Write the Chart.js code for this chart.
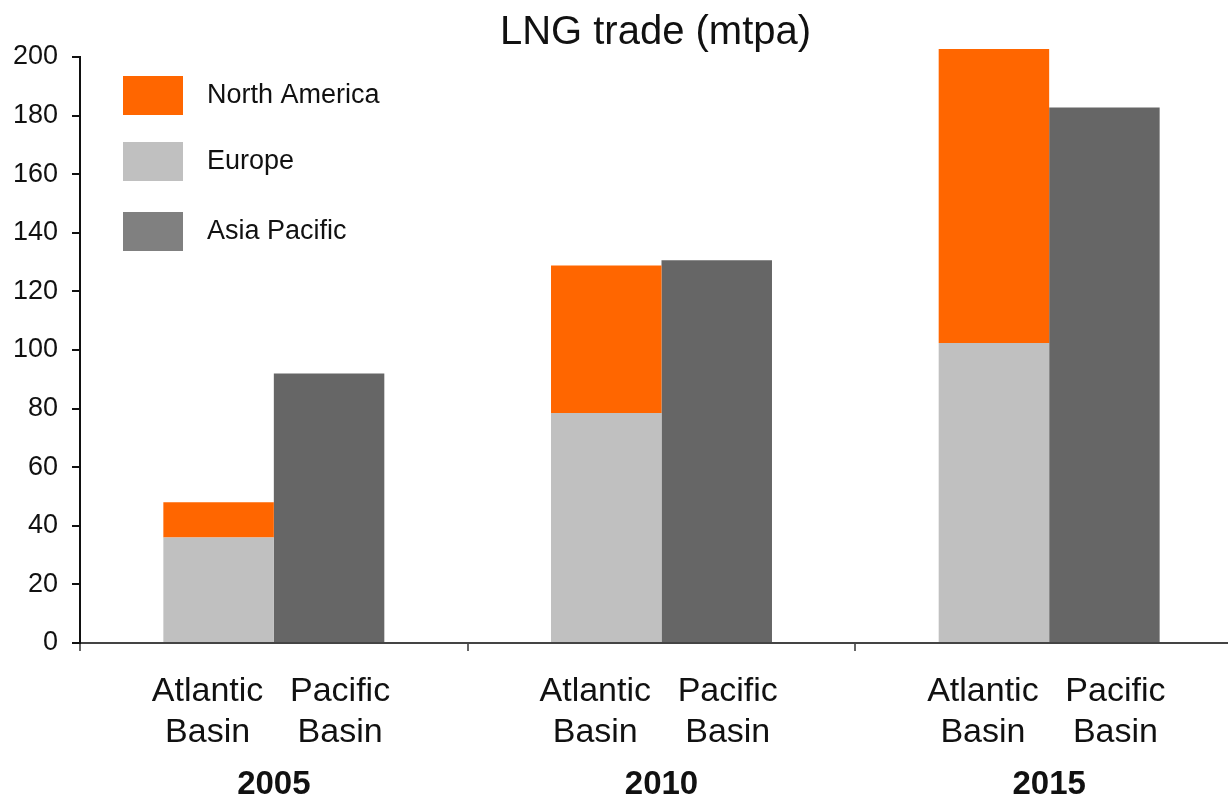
<!DOCTYPE html>
<html>
<head>
<meta charset="utf-8">
<script src="https://cdn.jsdelivr.net/npm/chart.js@4/dist/chart.umd.min.js"></script>
<style>
html,body{margin:0;padding:0;background:#fff;overflow:hidden;}
#wrap{width:1243px;height:801px;position:relative;}
</style>
</head>
<body>
<div id="wrap"><canvas id="c"></canvas></div>
<script>
const categories = ['2005', '2010', '2015'];
const basinLabels = [['Atlantic', 'Basin'], ['Pacific', 'Basin']];
const europe = [36, 78.5, 102.4];
const northAmerica = [12, 50.3, 100.3];
const asiaPacific = [92, 130.6, 182.8];
const yMin = 0, yMax = 200, yStep = 20;
const titleText = 'LNG trade (mtpa)';
const legendOrder = ['North America', 'Europe', 'Asia Pacific'];
const legendColors = {'North America': '#FF6600', 'Europe': '#C0C0C0', 'Asia Pacific': '#808080'};

const FONT = '"Liberation Sans", Arial, Helvetica, sans-serif';

const overlay = {
  id: 'overlay',
  afterDraw(chart) {
    const ctx = chart.ctx;
    const ca = chart.chartArea;
    ctx.save();
    // title
    ctx.fillStyle = '#111';
    ctx.font = '40px ' + FONT;
    ctx.textAlign = 'center';
    ctx.textBaseline = 'alphabetic';
    ctx.fillText(titleText, (ca.left + ca.right) / 2 - 6, 44);
    // legend
    ctx.textAlign = 'left';
    ctx.textBaseline = 'middle';
    ctx.font = '27px ' + FONT;
    const tops = [76, 142, 212];
    legendOrder.forEach((name, k) => {
      ctx.fillStyle = legendColors[name];
      ctx.fillRect(123, tops[k], 60, 39);
      ctx.fillStyle = '#111';
      ctx.fillText(name, 207, tops[k] + 20);
    });
    // basin sub-labels
    ctx.font = '34px ' + FONT;
    ctx.textAlign = 'center';
    ctx.textBaseline = 'alphabetic';
    const metaA = chart.getDatasetMeta(0);
    const metaP = chart.getDatasetMeta(2);
    categories.forEach((c, i) => {
      const xa = metaA.data[i].x - 11;
      const xp = metaP.data[i].x + 11;
      ctx.fillStyle = '#111';
      ctx.fillText(basinLabels[0][0], xa, ca.bottom + 58);
      ctx.fillText(basinLabels[0][1], xa, ca.bottom + 99);
      ctx.fillText(basinLabels[1][0], xp, ca.bottom + 58);
      ctx.fillText(basinLabels[1][1], xp, ca.bottom + 99);
    });
    ctx.restore();
  }
};

new Chart(document.getElementById('c'), {
  type: 'bar',
  data: {
    labels: categories,
    datasets: [
      {label: 'Europe', data: europe, backgroundColor: '#C0C0C0', stack: 'atlantic', clip: false},
      {label: 'North America', data: northAmerica, backgroundColor: '#FF6600', stack: 'atlantic', clip: false},
      {label: 'Asia Pacific', data: asiaPacific, backgroundColor: '#666666', stack: 'pacific', clip: false}
    ]
  },
  options: {
    responsive: true,
    maintainAspectRatio: false,
    animation: false,
    devicePixelRatio: 1,
    layout: {padding: {top: 57, left: 0, right: 0, bottom: 0}},
    datasets: {bar: {categoryPercentage: 0.57, barPercentage: 1.0, borderWidth: 0}},
    plugins: {legend: {display: false}, tooltip: {enabled: false}, title: {display: false}},
    scales: {
      x: {
        stacked: true,
        afterFit(scale) { scale.height = 158; },
        border: {display: true, color: '#444', width: 2},
        grid: {display: true, drawOnChartArea: false, drawTicks: true, offset: true, tickLength: 8, tickColor: '#666', lineWidth: 2},
        ticks: {color: '#111', font: {family: FONT, size: 33, weight: 'bold'}, padding: 114, maxRotation: 0}
      },
      y: {
        stacked: true,
        min: yMin, max: yMax,
        afterFit(scale) { scale.width = 80; },
        border: {display: true, color: '#111', width: 2},
        grid: {display: true, drawOnChartArea: false, drawTicks: true, tickLength: 8, tickColor: '#111', lineWidth: 2},
        ticks: {stepSize: yStep, color: '#111', font: {family: FONT, size: 27}, padding: 14}
      }
    }
  },
  plugins: [overlay]
});
</script>
</body>
</html>
